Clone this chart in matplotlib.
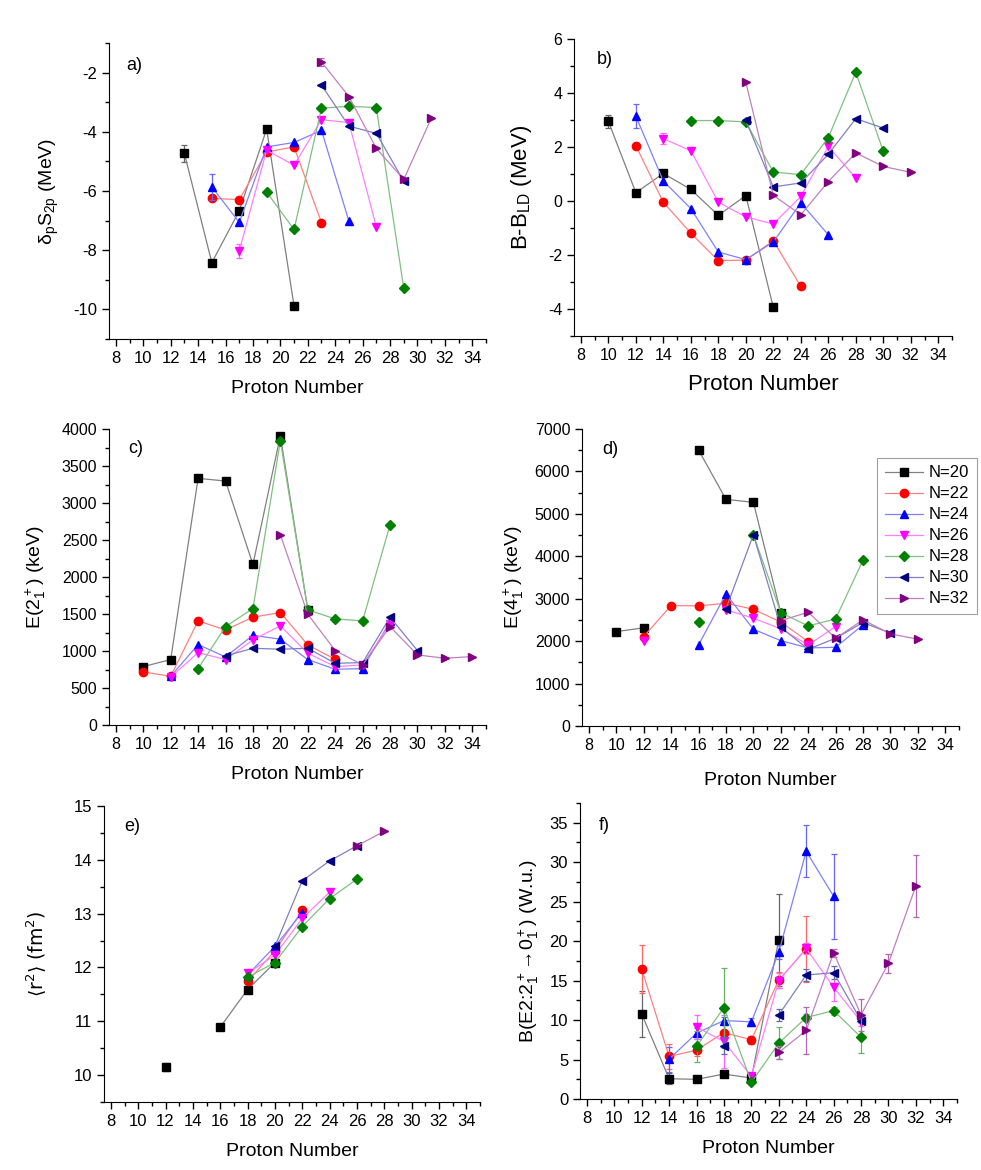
import matplotlib
matplotlib.use('Agg')
import matplotlib.pyplot as plt
import numpy as np
from matplotlib.ticker import MultipleLocator
from matplotlib.colors import to_rgb

plt.rcParams['font.family'] = ['Liberation Sans', 'DejaVu Sans']
plt.rcParams['mathtext.default'] = 'regular'
plt.rcParams['axes.unicode_minus'] = False

nan = np.nan

# series labels / colours / markers
n_labels = ['N=20', 'N=22', 'N=24', 'N=26', 'N=28', 'N=30', 'N=32']
colors = ['#000000', '#ff0000', '#0000ff', '#ff00ff', '#008000', '#000080', '#800080']
markers = ['s', 'o', '^', 'v', 'D', '<', '>']

# a) delta_p S_2p (MeV)
za = [13, 15, 17, 19, 21, 23, 25, 27, 29, 31]
a20 = [-4.73, -8.42, -6.67, -3.91, -9.89, nan, nan, nan, nan, nan]
a22 = [nan, -6.25, -6.29, -4.68, -4.51, -7.07, nan, nan, nan, nan]
a24 = [nan, -5.86, -7.06, -4.51, -4.36, -3.95, -7.02, nan, nan, nan]
a26 = [nan, nan, -8.03, -4.62, -5.13, -3.59, -3.69, -7.21, nan, nan]
a28 = [nan, nan, nan, -6.04, -7.30, -3.20, -3.14, -3.18, -9.28, nan]
a30 = [nan, nan, nan, nan, nan, -2.42, -3.81, -4.05, -5.67, nan]
a32 = [nan, nan, nan, nan, nan, -1.64, -2.81, -4.56, -5.61, -3.55]
a20_err = [0.28, 0, 0, 0, 0, 0, 0, 0, 0, 0]
a24_err = [0, 0.45, 0, 0, 0, 0, 0, 0, 0, 0]
a26_err = [0, 0, 0.25, 0, 0, 0, 0, 0, 0, 0]
a32_err = [0, 0, 0, 0, 0, 0.15, 0, 0, 0, 0]

# b) B - B_LD (MeV)
zb = [10, 12, 14, 16, 18, 20, 22, 24, 26, 28, 30, 32]
b20 = [2.95, 0.31, 1.02, 0.43, -0.53, 0.20, -3.94, nan, nan, nan, nan, nan]
b22 = [nan, 2.05, -0.05, -1.19, -2.21, -2.19, -1.47, -3.16, nan, nan, nan, nan]
b24 = [nan, 3.14, 0.74, -0.28, -1.89, -2.17, -1.52, -0.07, -1.25, nan, nan, nan]
b26 = [nan, nan, 2.31, 1.86, -0.04, -0.59, -0.85, 0.17, 2.02, 0.85, nan, nan]
b28 = [nan, nan, nan, 2.98, 2.98, 2.93, 1.07, 0.98, 2.35, 4.77, 1.84, nan]
b30 = [nan, nan, nan, nan, nan, 2.99, 0.52, 0.67, 1.73, 3.05, 2.70, nan]
b32 = [nan, nan, nan, nan, nan, 4.40, 0.21, -0.51, 0.72, 1.78, 1.28, 1.06]
b20_err = [0.25, 0, 0, 0, 0, 0, 0, 0, 0, 0, 0, 0]
b24_err = [0, 0.45, 0, 0, 0, 0, 0, 0, 0, 0, 0, 0]
b26_err = [0, 0, 0.2, 0, 0, 0, 0, 0, 0, 0, 0, 0]

# c) E(2+) (keV)
zc = [10, 12, 14, 16, 18, 20, 22, 24, 26, 28, 30, 32, 34]
c20 = [789, 884, 3333, 3297, 2169, 3910, 1555, nan, nan, nan, nan, nan, nan]
c22 = [717, 658, 1407, 1285, 1457, 1520, 1082, 888, nan, nan, nan, nan, nan]
c24 = [nan, 658, 1087, 920, 1213, 1159, 884, 753, 762, 1400, nan, nan, nan]
c26 = [nan, 645, 979, 884, 1150, 1339, 970, 789, 812, 1367, nan, nan, nan]
c28 = [nan, nan, 762, 1330, 1574, 3843, 1556, 1434, 1407, 2706, nan, nan, nan]
c30 = [nan, nan, nan, 934, 1037, 1024, 1037, 834, 843, 1457, 1006, nan, nan]
c32 = [nan, nan, nan, nan, nan, 2571, 1497, 1006, 812, 1330, 947, 902, 925]

# d) E(4+) (keV)
zd = [10, 12, 14, 16, 18, 20, 22, 24, 26, 28, 30, 32]
d20 = [2226, 2313, nan, 6506, 5342, 5271, 2672, nan, nan, nan, nan, nan]
d22 = [nan, 2108, 2840, 2830, 2894, 2752, 2450, 1988, nan, nan, nan, nan]
d24 = [nan, nan, nan, 1910, 3113, 2281, 2012, 1840, 1855, 2384, nan, nan]
d26 = [nan, 2006, nan, nan, 2740, 2540, 2290, 1910, 2343, nan, nan, nan]
d28 = [nan, nan, nan, 2446, nan, 4508, 2672, 2358, 2523, 3910, nan, nan]
d30 = [nan, nan, nan, nan, 2760, 4508, 2330, 1809, 2068, 2439, 2187, nan]
d32 = [nan, nan, nan, nan, nan, nan, 2483, 2682, 2068, 2502, 2171, 2045]

# e) <r^2> (fm^2)
ze = [12, 14, 16, 18, 20, 22, 24, 26, 28]
e20 = [10.15, nan, 10.89, 11.59, 12.09, nan, nan, nan, nan]
e22 = [nan, nan, nan, 11.74, 12.31, 13.06, nan, nan, nan]
e24 = [nan, nan, nan, 11.86, 12.39, 13.02, nan, nan, nan]
e26 = [nan, nan, nan, 11.89, 12.23, 12.91, 13.40, nan, nan]
e28 = [nan, nan, nan, 11.82, 12.09, 12.76, 13.28, 13.64, nan]
e30 = [nan, nan, nan, nan, 12.39, 13.61, 13.98, 14.26, nan]
e32 = [nan, nan, nan, nan, nan, nan, nan, 14.26, 14.53]
e20_err = [0.08, 0, 0, 0, 0, 0, 0, 0, 0]

# f) B(E2) (W.u.)
zf = [12, 14, 16, 18, 20, 22, 24, 26, 28, 30, 32]
f20 = [10.78, 2.57, 2.49, 3.16, 2.65, 20.13, nan, nan, nan, nan, nan]
f22 = [16.47, 5.39, 6.19, 8.42, 7.50, 15.08, 19.0, nan, nan, nan, nan]
f24 = [nan, 5.05, 8.34, 9.94, 9.77, 18.58, 31.38, 25.69, nan, nan, nan]
f26 = [nan, nan, 9.10, 7.29, 2.86, 15.0, 19.08, 14.15, 9.81, nan, nan]
f28 = [nan, nan, 6.66, 11.58, 2.11, 7.08, 10.32, 11.2, 7.83, nan, nan]
f30 = [nan, nan, nan, 6.74, nan, 10.66, 15.71, 16.0, 9.94, nan, nan]
f32 = [nan, nan, nan, nan, nan, 5.9, 8.68, 18.53, 10.66, 17.19, 27.0]
f20_err = [2.9, 0.7, 0.2, 0.2, 0.3, 5.8, 0, 0, 0, 0, 0]
f22_err = [3.1, 1.6, 0.8, 1.0, 0.5, 1.0, 4.2, 0, 0, 0, 0]
f24_err = [0, 1.6, 0.7, 0.4, 0.5, 0.9, 3.3, 5.4, 0, 0, 0]
f26_err = [0, 0, 1.5, 3.3, 0.4, 1.0, 0.7, 1.7, 0.5, 0, 0]
f28_err = [0, 0, 2.0, 5.06, 0.2, 2.0, 0.5, 0.5, 2.0, 0, 0]
f30_err = [0, 0, 0, 1.1, 0, 0.8, 0.7, 0.8, 0.3, 0, 0]
f32_err = [0, 0, 0, 0, 0, 0.8, 3.0, 0.5, 2.0, 1.2, 3.9]


def light(c, f=0.5):
    r, g, b = to_rgb(c)
    return (r * f + 1 - f, g * f + 1 - f, b * f + 1 - f)


W, H = 981, 1170
fig = plt.figure(figsize=(W / 100, H / 100), dpi=100)


def make_ax(l, t, r, b):
    return fig.add_axes([l / W, 1 - b / H, (r - l) / W, (b - t) / H])


def draw(ax, z, series, errs=None, tick_fs=12):
    for i, y in enumerate(series):
        c = colors[i]
        ms = 4.8 if markers[i] == 'D' else 6
        if errs is not None and errs[i] is not None:
            e = np.array(errs[i], dtype=float)
            m = e > 0
            ax.errorbar(np.array(z)[m], np.array(y)[m], yerr=e[m], fmt='none',
                        ecolor=light(c, 0.6), elinewidth=0.9, capsize=2.5, capthick=0.9)
        ax.plot(z, y, color=light(c, 0.5), lw=0.9, marker=markers[i], ms=ms,
                mfc=c, mec=c, label=n_labels[i])
    ax.set_xlim(7.5, 35)
    ax.xaxis.set_major_locator(MultipleLocator(2))
    ax.xaxis.set_minor_locator(MultipleLocator(1))
    for s in ['top', 'right']:
        ax.spines[s].set_visible(False)
    ax.tick_params(which='major', direction='out', length=5, width=1, labelsize=tick_fs)
    ax.tick_params(which='minor', direction='out', length=3, width=1)


# a)
ax = make_ax(109, 43, 486, 339)
draw(ax, za, [a20, a22, a24, a26, a28, a30, a32],
     [a20_err, None, a24_err, a26_err, None, None, a32_err])
ax.set_ylim(-11, -1)
ax.yaxis.set_major_locator(MultipleLocator(2))
ax.yaxis.set_minor_locator(MultipleLocator(1))
ax.set_ylabel('δ$_p$S$_{2p}$ (MeV)', fontsize=14, labelpad=9)
ax.set_xlabel('Proton Number', fontsize=14, labelpad=10)
ax.text(0.045, 0.925, 'a)', transform=ax.transAxes, fontsize=13, va='center')

# b)
ax = make_ax(574, 39, 952, 336)
draw(ax, zb, [b20, b22, b24, b26, b28, b30, b32],
     [b20_err, None, b24_err, b26_err, None, None, None], tick_fs=11.5)
ax.set_ylim(-5, 6)
ax.yaxis.set_major_locator(MultipleLocator(2))
ax.yaxis.set_minor_locator(MultipleLocator(1))
ax.set_ylabel('B-B$_{LD}$ (MeV)', fontsize=16, labelpad=10)
ax.set_xlabel('Proton Number', fontsize=16, labelpad=8)
ax.text(0.06, 0.93, 'b)', transform=ax.transAxes, fontsize=13, va='center')

# c)
ax = make_ax(109, 429, 486, 725)
draw(ax, zc, [c20, c22, c24, c26, c28, c30, c32], tick_fs=11.5)
ax.set_ylim(0, 4000)
ax.yaxis.set_major_locator(MultipleLocator(500))
ax.yaxis.set_minor_locator(MultipleLocator(250))
ax.set_ylabel('E(2$_1^+$) (keV)', fontsize=14, labelpad=10)
ax.set_xlabel('Proton Number', fontsize=14, labelpad=10)
ax.text(0.05, 0.933, 'c)', transform=ax.transAxes, fontsize=13, va='center')

# d)
ax = make_ax(582, 429, 959, 726)
draw(ax, zd, [d20, d22, d24, d26, d28, d30, d32], tick_fs=11.5)
ax.set_ylim(0, 7000)
ax.yaxis.set_major_locator(MultipleLocator(1000))
ax.yaxis.set_minor_locator(MultipleLocator(500))
ax.set_ylabel('E(4$_1^+$) (keV)', fontsize=14, labelpad=6)
ax.set_xlabel('Proton Number', fontsize=14, labelpad=14)
ax.text(0.055, 0.93, 'd)', transform=ax.transAxes, fontsize=13, va='center')
leg = ax.legend(loc='upper left', bbox_to_anchor=(877 / W, 1 - 458 / H),
                bbox_transform=fig.transFigure, fontsize=12, frameon=True,
                fancybox=False, edgecolor='#888888', handlelength=2.3,
                handletextpad=0.35, labelspacing=0.36, borderpad=0.45,
                borderaxespad=0)
leg.get_frame().set_linewidth(0.8)

# e)
ax = make_ax(104, 806, 480, 1102)
draw(ax, ze, [e20, e22, e24, e26, e28, e30, e32],
     [e20_err, None, None, None, None, None, None])
ax.set_ylim(9.5, 15)
ax.yaxis.set_major_locator(MultipleLocator(1))
ax.yaxis.set_minor_locator(MultipleLocator(0.5))
ax.set_ylabel('⟨r$^2$⟩ (fm$^2$)', fontsize=13.5, labelpad=18, fontfamily='DejaVu Sans')
ax.set_xlabel('Proton Number', fontsize=14, labelpad=10)
ax.text(0.055, 0.93, 'e)', transform=ax.transAxes, fontsize=13, va='center')

# f)
ax = make_ax(580, 803, 957, 1099)
draw(ax, zf, [f20, f22, f24, f26, f28, f30, f32],
     [f20_err, f22_err, f24_err, f26_err, f28_err, f30_err, f32_err])
ax.set_ylim(0, 37.5)
ax.yaxis.set_major_locator(MultipleLocator(5))
ax.yaxis.set_minor_locator(MultipleLocator(2.5))
ax.set_ylabel('B(E2:2$_1^+$→0$_1^+$) (W.u.)', fontsize=14, labelpad=6)
ax.set_xlabel('Proton Number', fontsize=14, labelpad=10)
ax.text(0.05, 0.925, 'f)', transform=ax.transAxes, fontsize=13, va='center')

plt.savefig('out.png', dpi=100)
